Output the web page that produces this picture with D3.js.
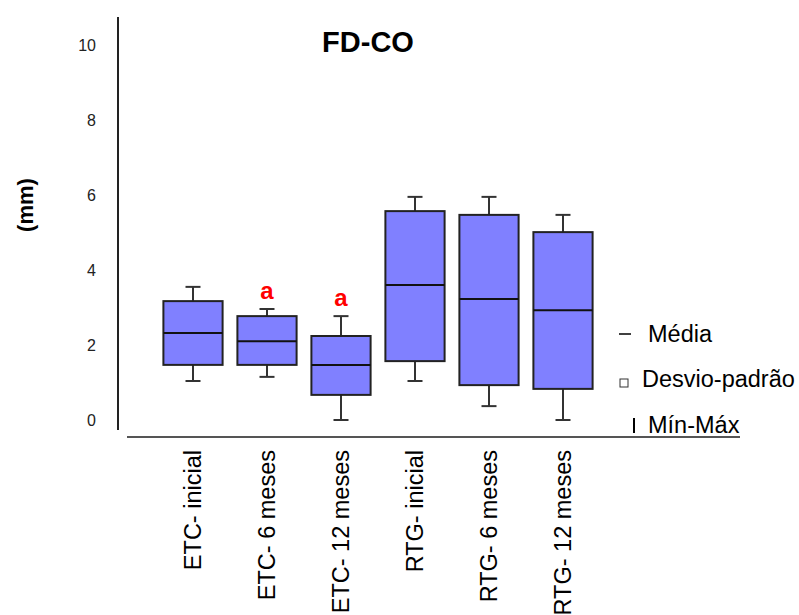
<!DOCTYPE html>
<html>
<head>
<meta charset="utf-8">
<script src="https://cdn.jsdelivr.net/npm/d3@7"></script>
<style>
  body { margin: 0; background: #fff; }
  svg { font-family: "Liberation Sans", Arial, sans-serif; }
</style>
</head>
<body>
<div id="chart"></div>
<script>
// data (mm)
const categories = ["ETC- inicial", "ETC- 6 meses", "ETC- 12 meses", "RTG- inicial", "RTG- 6 meses", "RTG- 12 meses"];
const mins    = [1.04, 1.15, 0.0, 1.04, 0.37, 0.0];
const lower   = [1.47, 1.47, 0.67, 1.57, 0.93, 0.83];
const means   = [2.32, 2.10, 1.47, 3.60, 3.23, 2.93];
const upper   = [3.17, 2.77, 2.24, 5.57, 5.47, 5.01];
const maxs    = [3.55, 2.96, 2.77, 5.95, 5.95, 5.47];
const marks   = ["", "a", "a", "", "", ""];
const yTicks  = [0, 2, 4, 6, 8, 10];
const legendItems = ["Média", "Desvio-padrão", "Mín-Máx"];

const width = 799, height = 615;

const svg = d3.select("#chart").append("svg")
  .attr("width", width)
  .attr("height", height);

const y = d3.scaleLinear().domain([0, 10]).range([420, 45]);
const x = d3.scaleBand().domain(categories).range([156, 600]).paddingInner(0.2).paddingOuter(0.1);

const rows = categories.map((c, i) => ({
  cat: c, min: mins[i], lo: lower[i], mean: means[i], hi: upper[i], max: maxs[i], mark: marks[i]
}));

// axes lines
svg.append("line")
  .attr("x1", 118).attr("x2", 118)
  .attr("y1", 17).attr("y2", 430)
  .attr("stroke", "#222").attr("stroke-width", 2);

svg.append("line")
  .attr("x1", 127).attr("x2", 740)
  .attr("y1", 437).attr("y2", 437)
  .attr("stroke", "#555").attr("stroke-width", 2);

// y tick labels
svg.append("g")
  .selectAll("text")
  .data(yTicks)
  .join("text")
    .attr("x", 96)
    .attr("y", d => y(d))
    .attr("dy", "0.35em")
    .attr("text-anchor", "end")
    .style("font-family", "'Liberation Sans Narrow', 'Liberation Sans', sans-serif")
    .style("font-size", "16px")
    .attr("fill", "#222")
    .text(d => d);

// whiskers
const cw = 7.5;
const g = svg.append("g");
const box = g.selectAll("g")
  .data(rows)
  .join("g")
    .attr("transform", d => `translate(${x(d.cat) + x.bandwidth() / 2},0)`);

box.append("line")
  .attr("y1", d => y(d.min)).attr("y2", d => y(d.max))
  .attr("stroke", "#333").attr("stroke-width", 2);
box.append("line")
  .attr("x1", -cw).attr("x2", cw)
  .attr("y1", d => y(d.max)).attr("y2", d => y(d.max))
  .attr("stroke", "#333").attr("stroke-width", 2);
box.append("line")
  .attr("x1", -cw).attr("x2", cw)
  .attr("y1", d => y(d.min)).attr("y2", d => y(d.min))
  .attr("stroke", "#333").attr("stroke-width", 2);

// boxes
box.append("rect")
  .attr("x", -x.bandwidth() / 2)
  .attr("width", x.bandwidth())
  .attr("y", d => y(d.hi))
  .attr("height", d => y(d.lo) - y(d.hi))
  .attr("fill", "#8080ff")
  .attr("stroke", "#222")
  .attr("stroke-width", 2);

// mean line
box.append("line")
  .attr("x1", -x.bandwidth() / 2).attr("x2", x.bandwidth() / 2)
  .attr("y1", d => y(d.mean)).attr("y2", d => y(d.mean))
  .attr("stroke", "#111").attr("stroke-width", 2);

// significance marks
box.append("text")
  .attr("y", d => y(d.max) - 10)
  .attr("text-anchor", "middle")
  .style("font-size", "24px")
  .style("font-weight", "bold")
  .attr("fill", "#ff0000")
  .text(d => d.mark);

// x labels, rotated
svg.append("g")
  .selectAll("text")
  .data(categories)
  .join("text")
    .attr("transform", d => `translate(${x(d) + x.bandwidth() / 2 + 8},450) rotate(-90)`)
    .attr("text-anchor", "end")
    .style("font-size", "23.5px")
    .attr("fill", "#000")
    .text(d => d);

// title
svg.append("text")
  .attr("x", 368).attr("y", 52)
  .attr("text-anchor", "middle")
  .style("font-size", "29px")
  .style("font-weight", "bold")
  .text("FD-CO");

// y label
svg.append("text")
  .attr("transform", "translate(33,205) rotate(-90)")
  .attr("text-anchor", "middle")
  .style("font-size", "22px")
  .style("font-weight", "bold")
  .text("(mm)");

// legend
const legend = svg.append("g");
legend.append("line")
  .attr("x1", 619).attr("x2", 631).attr("y1", 334).attr("y2", 334)
  .attr("stroke", "#000").attr("stroke-width", 1.5);
legend.append("text").attr("x", 648).attr("y", 342)
  .style("font-size", "23.5px").text(legendItems[0]);

legend.append("rect")
  .attr("x", 620).attr("y", 379).attr("width", 8).attr("height", 8)
  .attr("fill", "#fff").attr("stroke", "#333").attr("stroke-width", 1);
legend.append("text").attr("x", 642).attr("y", 387)
  .style("font-size", "23.5px").text(legendItems[1]);

legend.append("line")
  .attr("x1", 634).attr("x2", 634).attr("y1", 418).attr("y2", 433)
  .attr("stroke", "#000").attr("stroke-width", 2);
legend.append("text").attr("x", 648).attr("y", 433)
  .style("font-size", "23.5px").text(legendItems[2]);
</script>
</body>
</html>
